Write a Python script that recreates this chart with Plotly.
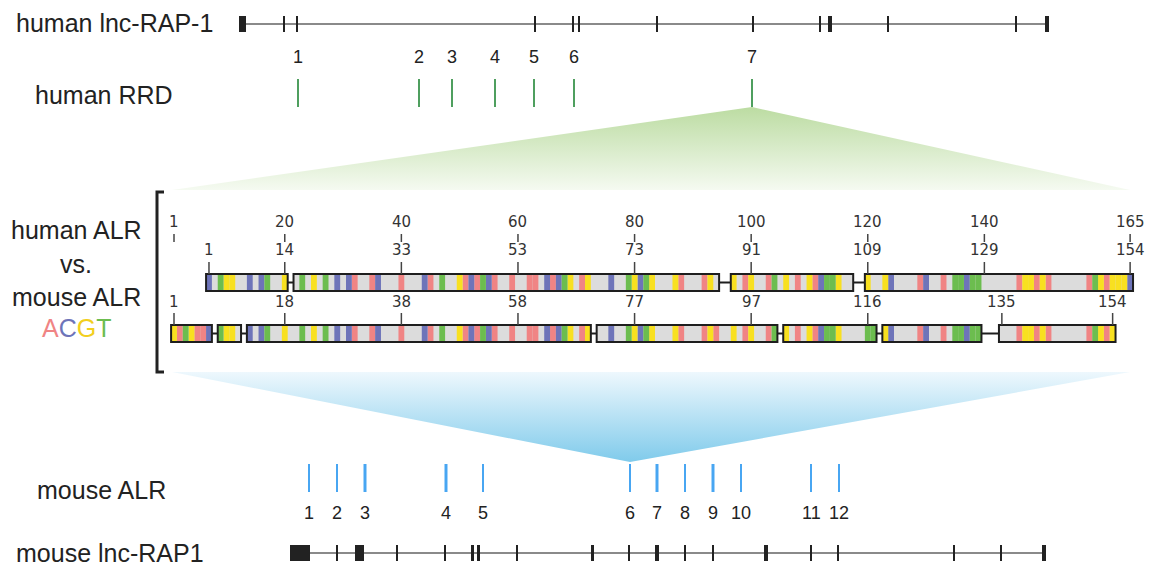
import plotly.graph_objects as go

# ---------------- data ----------------
# gene tracks (track coordinate units)
HUMAN_GENE_SPAN = (240, 1048)
HUMAN_EXON_START = [239, 283, 296, 534, 572, 578, 656, 752, 819, 828, 887, 1015, 1045]
HUMAN_EXON_END = [246, 285, 298, 536, 574, 580, 658, 754, 821, 832, 889, 1017, 1049]

MOUSE_GENE_SPAN = (290, 1046)
MOUSE_EXON_START = [290, 336, 355, 396, 444, 471, 477, 516, 591, 628, 655, 684, 712, 764, 810, 837, 953, 1000, 1042]
MOUSE_EXON_END = [310, 338, 364, 398, 446, 474, 480, 518, 594, 630, 659, 686, 714, 768, 812, 839, 955, 1002, 1046]

RRD_POS = [298, 419, 452, 495, 534, 574, 752]
RRD_LABELS = ["1", "2", "3", "4", "5", "6", "7"]

ALR_POS = [309, 337, 365, 446, 483, 630, 657, 685, 713, 741, 811, 839]
ALR_LABELS = ["1", "2", "3", "4", "5", "6", "7", "8", "9", "10", "11", "12"]

# alignment (column units, 165 columns)
N_COLS = 165
HUMAN_BLOCKS = [(7, 20), (22, 94), (97, 117), (120, 165)]
MOUSE_BLOCKS = [(1, 7), (9, 12), (14, 72), (74, 104), (106, 121), (123, 139), (143, 162)]

HUMAN_A = [32, 35, 40, 45, 51, 53, 56, 59, 62, 63, 66, 71, 88, 92, 99, 103, 108, 111, 129, 133, 146, 149, 151, 158, 161]
HUMAN_C = [7, 14, 16, 29, 31, 36, 44, 52, 55, 65, 67, 76, 81, 112, 124, 130, 137, 165]
HUMAN_G = [10, 11, 20, 25, 50, 69, 72, 80, 83, 87, 93, 97, 100, 106, 110, 115, 120, 123, 147, 148, 150, 160, 162, 163, 164]
HUMAN_T = [9, 17, 23, 27, 47, 54, 68, 79, 82, 104, 113, 114, 135, 136, 138, 139, 159]

MOUSE_A = [2, 5, 6, 32, 35, 40, 45, 51, 53, 56, 59, 62, 63, 66, 71, 88, 92, 94, 99, 103, 108, 111, 129, 133, 146, 149, 151, 158, 161]
MOUSE_C = [7, 14, 16, 29, 31, 36, 44, 52, 55, 65, 67, 76, 81, 112, 124, 130, 137]
MOUSE_G = [1, 4, 10, 11, 20, 25, 50, 69, 72, 80, 83, 87, 93, 97, 100, 106, 110, 115, 123, 147, 148, 150, 160, 162]
MOUSE_T = [3, 9, 17, 23, 27, 47, 54, 68, 79, 82, 104, 113, 114, 120, 121, 135, 136, 138, 139, 159]

COL_TICKS = [1, 20, 40, 60, 80, 100, 120, 140, 165]
HUMAN_RES_TICKS = [1, 14, 33, 53, 73, 91, 109, 129, 154]
MOUSE_RES_TICKS = [1, 18, 38, 58, 77, 97, 116, 135, 154]

# ---------------- styles ----------------
BASE_COLORS = {"A": "#f08484", "C": "#6e74b9", "G": "#f8e020", "T": "#6cbd4f"}
GRAY = "#dcdcdc"
DARK = "#1e1e1e"
LABEL_FONT = dict(family="Liberation Sans, Arial, sans-serif", size=25, color="#222222")
NUM_FONT = dict(family="Liberation Sans, Arial, sans-serif", size=18, color="#222222")
ALN_FONT = dict(family="DejaVu Sans, sans-serif", size=15, color="#333333")

COL0_X, COL_W = 174.0, 5.83   # alignment column -> track coordinate
HUMAN_ROW = (274, 291)
MOUSE_ROW = (325, 342)


def col_x(c):
    return COL0_X + (c - 1) * COL_W


def res_to_col(blocks, res):
    n = 0
    for s, e in blocks:
        L = e - s + 1
        if res <= n + L:
            return s + (res - n - 1)
        n += L
    return None


fig = go.Figure()
shapes = []
annotations = []

# ---------------- gradient triangles ----------------
green_apex = RRD_POS[6]
fig.add_trace(go.Scatter(
    x=[green_apex, col_x(N_COLS + 0.5) - 3, col_x(0.5) + 1, green_apex],
    y=[107, 190, 190, 107], mode="lines", fill="toself", line=dict(width=0, color="rgba(0,0,0,0)"),
    fillgradient=dict(type="vertical", colorscale=[[0, "#bcdca2"], [1, "#f5faf1"]], start=107, stop=190),
    hoverinfo="skip", showlegend=False))
blue_apex = ALR_POS[5]
fig.add_trace(go.Scatter(
    x=[col_x(0.5) + 1, col_x(N_COLS + 0.5) - 3, blue_apex, col_x(0.5) + 1],
    y=[372, 372, 462, 372], mode="lines", fill="toself", line=dict(width=0, color="rgba(0,0,0,0)"),
    fillgradient=dict(type="vertical", colorscale=[[0, "#eef8fd"], [1, "#80cbeb"]], start=372, stop=462),
    hoverinfo="skip", showlegend=False))

# ---------------- gene tracks ----------------
def gene_track(span, starts, ends, yc, half):
    shapes.append(dict(type="line", xref="x", yref="y", x0=span[0], x1=span[1], y0=yc, y1=yc,
                       line=dict(color="#8a8a8a", width=2), layer="below"))
    for s, e in zip(starts, ends):
        shapes.append(dict(type="rect", xref="x", yref="y", x0=s, x1=e, y0=yc - half, y1=yc + half,
                           fillcolor="#222222", line=dict(width=0)))


gene_track(HUMAN_GENE_SPAN, HUMAN_EXON_START, HUMAN_EXON_END, 24, 8)
gene_track(MOUSE_GENE_SPAN, MOUSE_EXON_START, MOUSE_EXON_END, 553, 8)

# ---------------- RRD / ALR marks ----------------
for p, lab in zip(RRD_POS, RRD_LABELS):
    shapes.append(dict(type="line", xref="x", yref="y", x0=p, x1=p, y0=79, y1=107,
                       line=dict(color="#4f9f5f", width=2)))
    annotations.append(dict(x=p, y=57, xref="x", yref="y", text=lab, showarrow=False, font=NUM_FONT))

ALR_WIDTHS = [2, 2, 3, 3, 2, 2, 3, 2, 3, 2, 2, 2]
for p, lab, w in zip(ALR_POS, ALR_LABELS, ALR_WIDTHS):
    shapes.append(dict(type="line", xref="x", yref="y", x0=p, x1=p, y0=464, y1=492,
                       line=dict(color="#48a6f2", width=w)))
    annotations.append(dict(x=p, y=513, xref="x", yref="y", text=lab, showarrow=False, font=NUM_FONT))

# ---------------- alignment ----------------
def aln_row(blocks, base_lists, row):
    y0, y1 = row
    ym = (y0 + y1) / 2
    for (s, e) in blocks:
        shapes.append(dict(type="rect", xref="x2", yref="y", x0=s - 0.5, x1=e + 0.5, y0=y0, y1=y1,
                           fillcolor=GRAY, line=dict(width=0), layer="below"))
    for (s1, e1), (s2, e2) in zip(blocks[:-1], blocks[1:]):
        shapes.append(dict(type="line", xref="x2", yref="y", x0=e1 + 0.5, x1=s2 - 0.5, y0=ym, y1=ym,
                           line=dict(color=DARK, width=2)))
    xs, cs = [], []
    for base, cols in base_lists.items():
        for c in cols:
            xs.append(c)
            cs.append(BASE_COLORS[base])
    fig.add_trace(go.Bar(x=xs, y=[y1 - y0] * len(xs), base=[y0] * len(xs), width=1.0,
                         marker=dict(color=cs, line=dict(width=0)), xaxis="x2", yaxis="y",
                         hoverinfo="skip", showlegend=False))
    for (s, e) in blocks:
        shapes.append(dict(type="rect", xref="x2", yref="y", x0=s - 0.5, x1=e + 0.5, y0=y0, y1=y1,
                           fillcolor="rgba(0,0,0,0)", line=dict(color=DARK, width=2), layer="above"))


aln_row(HUMAN_BLOCKS, {"A": HUMAN_A, "C": HUMAN_C, "G": HUMAN_G, "T": HUMAN_T}, HUMAN_ROW)
aln_row(MOUSE_BLOCKS, {"A": MOUSE_A, "C": MOUSE_C, "G": MOUSE_G, "T": MOUSE_T}, MOUSE_ROW)

# column ticks + labels
for c in COL_TICKS:
    shapes.append(dict(type="line", xref="x2", yref="y", x0=c, x1=c, y0=234, y1=242,
                       line=dict(color="#444444", width=1.5)))
    annotations.append(dict(x=c, y=222, xref="x2", yref="y", text=str(c), showarrow=False, font=ALN_FONT))
for r in HUMAN_RES_TICKS:
    c = res_to_col(HUMAN_BLOCKS, r)
    shapes.append(dict(type="line", xref="x2", yref="y", x0=c, x1=c, y0=262, y1=274,
                       line=dict(color="#444444", width=1.5)))
    annotations.append(dict(x=c, y=250, xref="x2", yref="y", text=str(r), showarrow=False, font=ALN_FONT))
for r in MOUSE_RES_TICKS:
    c = res_to_col(MOUSE_BLOCKS, r)
    shapes.append(dict(type="line", xref="x2", yref="y", x0=c, x1=c, y0=313, y1=325,
                       line=dict(color="#444444", width=1.5)))
    annotations.append(dict(x=c, y=302, xref="x2", yref="y", text=str(r), showarrow=False, font=ALN_FONT))

# bracket
shapes.append(dict(type="path", xref="x", yref="y",
                   path="M 164 192 L 157 192 L 157 372 L 164 372",
                   line=dict(color="#222222", width=3)))

# ---------------- left labels ----------------
annotations += [
    dict(x=14, y=23, text="human lnc-RAP-1", xanchor="left"),
    dict(x=33, y=95, text="human RRD", xanchor="left"),
    dict(x=76, y=230, text="human ALR", xanchor="center"),
    dict(x=76, y=264, text="vs.", xanchor="center"),
    dict(x=76, y=297, text="mouse ALR", xanchor="center"),
    dict(x=76, y=328, xanchor="center",
         text="<span style='color:#f08484'>A</span><span style='color:#6e74b9'>C</span>"
              "<span style='color:#f2cf1e'>G</span><span style='color:#6cbd4f'>T</span>"),
    dict(x=35, y=490, text="mouse ALR", xanchor="left"),
    dict(x=14, y=553, text="mouse lnc-RAP1", xanchor="left"),
]
for a in annotations[-8:]:
    a.update(xref="x", yref="y", showarrow=False, font=LABEL_FONT, yanchor="middle")

fig.update_layout(
    width=1149, height=571, margin=dict(l=0, r=0, t=0, b=0),
    paper_bgcolor="white", plot_bgcolor="white", showlegend=False, barmode="overlay",
    xaxis=dict(range=[0, 1149], visible=False, fixedrange=True),
    xaxis2=dict(range=[(0 - COL0_X) / COL_W + 1, (1149 - COL0_X) / COL_W + 1], overlaying="x",
                anchor="y", visible=False, fixedrange=True),
    yaxis=dict(range=[571, 0], visible=False, fixedrange=True),
    shapes=shapes, annotations=annotations,
)
fig.write_html("out.html")
